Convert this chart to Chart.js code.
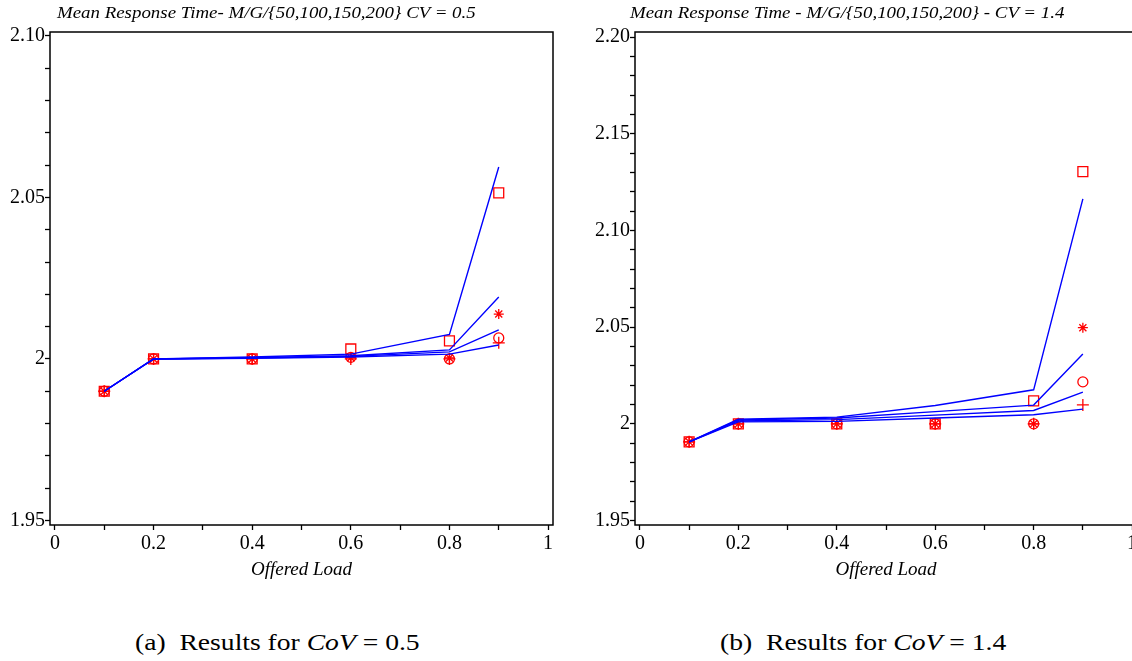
<!DOCTYPE html>
<html>
<head>
<meta charset="utf-8">
<script src="https://cdn.jsdelivr.net/npm/chart.js@4/dist/chart.umd.min.js"></script>
<style>
  html, body { margin: 0; padding: 0; background: #fff; overflow: hidden; width: 1132px; height: 661px; }
  .panel { position: absolute; top: 0; height: 600px; }
  .ttl { position: absolute; top: 4px; font: italic 16px 'Liberation Serif', serif; color: #000; white-space: nowrap; transform: scaleX(1.18); transform-origin: left top; }
  .cap { position: absolute; top: 630px; font: 23px 'Liberation Serif', serif; color: #000; white-space: nowrap; transform: scaleX(1.2); transform-origin: left top; }
</style>
</head>
<body>
<div class="panel" style="left:0;width:566px"><canvas id="leftChart"></canvas></div>
<div class="panel" style="left:585px;width:570px"><canvas id="rightChart"></canvas></div>
<div class="ttl" style="left:57px">Mean Response Time- M/G/{50,100,150,200} CV = 0.5</div>
<div class="ttl" style="left:630px">Mean Response Time - M/G/{50,100,150,200} - CV = 1.4</div>
<div class="cap" style="left:135px">(a)&nbsp; Results for <i>CoV</i> = 0.5</div>
<div class="cap" style="left:720px">(b)&nbsp; Results for <i>CoV</i> = 1.4</div>
<script>
// offered load values where results were computed
const loads = [0.1, 0.2, 0.4, 0.6, 0.8, 0.9];

const xTicks = [0, 0.1, 0.2, 0.3, 0.4, 0.5, 0.6, 0.7, 0.8, 0.9, 1];
const xLabels = ['0', '', '0.2', '', '0.4', '', '0.6', '', '0.8', '', '1'];

// CV = 0.5 : model curves (blue) and simulation points (red)
const cv05Model50  = [1.990, 2.0000, 2.0006, 2.0015, 2.0076, 2.0594];
const cv05Model100 = [1.990, 2.0000, 2.0004, 2.0010, 2.0028, 2.0192];
const cv05Model150 = [1.990, 2.0000, 2.0003, 2.0008, 2.0022, 2.0090];
const cv05Model200 = [1.990, 2.0000, 2.0002, 2.0006, 2.0015, 2.0043];
const cv05Sim50  = [1.990, 2.000, 2.000, 2.0031, 2.0056, 2.0514];
const cv05Sim100 = [1.990, 2.000, 2.000, 2.0004, 2.0003, 2.0139];
const cv05Sim150 = [1.990, 2.000, 2.000, 2.0005, 2.0000, 2.0065];
const cv05Sim200 = [1.990, 2.000, 2.000, 2.0000, 2.0000, 2.0050];
const cv05YMajor = [1.95, 2, 2.05, 2.10];
const cv05YLabels = ['1.95', '2', '2.05', '2.10'];

// CV = 1.4
const cv14Model50  = [1.9907, 2.0024, 2.0035, 2.0095, 2.0176, 2.1163];
const cv14Model100 = [1.9907, 2.0020, 2.0030, 2.0063, 2.0097, 2.0361];
const cv14Model150 = [1.9907, 2.0015, 2.0022, 2.0045, 2.0069, 2.0164];
const cv14Model200 = [1.9907, 2.0010, 2.0013, 2.0030, 2.0047, 2.0076];
const cv14Sim50  = [1.9907, 2.000, 2.000, 2.000, 2.0119, 2.1304];
const cv14Sim100 = [1.9907, 2.000, 2.000, 2.000, 2.0000, 2.0497];
const cv14Sim150 = [1.9907, 2.000, 2.000, 2.000, 2.0000, 2.0217];
const cv14Sim200 = [1.9907, 2.000, 2.000, 2.000, 2.0000, 2.0098];
const cv14YMajor = [1.95, 2, 2.05, 2.10, 2.15, 2.20];
const cv14YLabels = ['1.95', '2', '2.05', '2.10', '2.15', '2.20'];

const frame = {
  id: 'frame',
  afterDraw(chart) {
    const { ctx, chartArea: { left, top, right, bottom } } = chart;
    ctx.save();
    ctx.strokeStyle = '#000';
    ctx.lineWidth = 1.5;
    ctx.strokeRect(left, top, right - left, bottom - top);
    ctx.restore();
  }
};

function pts(values) {
  return loads.map((x, i) => ({ x: x, y: values[i] }));
}

function modelLine(values) {
  return {
    data: pts(values),
    borderColor: '#0000ff',
    borderWidth: 1.4,
    pointRadius: 0,
    tension: 0,
    fill: false
  };
}

function simPoints(values, style, radius) {
  return {
    data: pts(values),
    showLine: false,
    pointStyle: style,
    pointRadius: radius,
    pointBorderColor: '#ff0000',
    pointBackgroundColor: 'rgba(0,0,0,0)',
    pointBorderWidth: 1.3
  };
}

function yTickList(lo, hi) {
  const list = [];
  for (let v = lo; v <= hi + 1e-9; v += 0.01) list.push(Math.round(v * 100) / 100);
  return list;
}

function makeChart(id, padRight, models, sims, yMin, yMax, yLo, yHi, yMajor, yLabels) {
  const yTicks = yTickList(yLo, yHi);
  const tickFont = { family: "'Liberation Serif', serif", size: 20 };
  new Chart(document.getElementById(id), {
    type: 'line',
    data: {
      datasets: [
        modelLine(models[0]), modelLine(models[1]), modelLine(models[2]), modelLine(models[3]),
        simPoints(sims[0], 'rect', 7), simPoints(sims[1], 'star', 5),
        simPoints(sims[2], 'circle', 5), simPoints(sims[3], 'cross', 6)
      ]
    },
    options: {
      responsive: true,
      maintainAspectRatio: false,
      animation: false,
      layout: { padding: { top: 32, right: padRight, left: 0, bottom: 0 } },
      plugins: { legend: { display: false }, tooltip: { enabled: false }, title: { display: false } },
      scales: {
        x: {
          type: 'linear',
          min: -0.01,
          max: 1.01,
          afterBuildTicks: (axis) => { axis.ticks = xTicks.map(v => ({ value: v })); },
          afterFit: (axis) => { axis.height = 75; },
          border: { display: false },
          grid: { drawOnChartArea: false, drawTicks: true, tickLength: 5, tickColor: '#000', tickWidth: 1.3 },
          ticks: {
            autoSkip: false,
            maxRotation: 0,
            padding: 2,
            color: '#000',
            font: tickFont,
            callback: (value) => {
              const i = xTicks.findIndex(t => Math.abs(t - value) < 1e-6);
              return i >= 0 ? xLabels[i] : '';
            }
          },
          title: {
            display: true,
            text: 'Offered Load',
            color: '#000',
            font: { family: "'Liberation Serif', serif", size: 19, style: 'italic' },
            padding: { top: 0, bottom: 19 }
          }
        },
        y: {
          type: 'linear',
          min: yMin,
          max: yMax,
          afterBuildTicks: (axis) => { axis.ticks = yTicks.map(v => ({ value: v })); },
          afterFit: (axis) => { axis.width = 50; },
          border: { display: false },
          grid: { drawOnChartArea: false, drawTicks: true, tickLength: 5, tickColor: '#000', tickWidth: 1.3 },
          ticks: {
            autoSkip: false,
            padding: 0,
            color: '#000',
            font: tickFont,
            callback: (value) => {
              const i = yMajor.findIndex(t => Math.abs(t - value) < 1e-6);
              return i >= 0 ? yLabels[i] : '';
            }
          }
        }
      }
    },
    plugins: [frame]
  });
}

makeChart('leftChart', 13,
  [cv05Model50, cv05Model100, cv05Model150, cv05Model200],
  [cv05Sim50, cv05Sim100, cv05Sim150, cv05Sim200],
  1.9486, 2.1012, 1.95, 2.10, cv05YMajor, cv05YLabels);

makeChart('rightChart', 18,
  [cv14Model50, cv14Model100, cv14Model150, cv14Model200],
  [cv14Sim50, cv14Sim100, cv14Sim150, cv14Sim200],
  1.9477, 2.2026, 1.95, 2.20, cv14YMajor, cv14YLabels);
</script>
</body>
</html>
